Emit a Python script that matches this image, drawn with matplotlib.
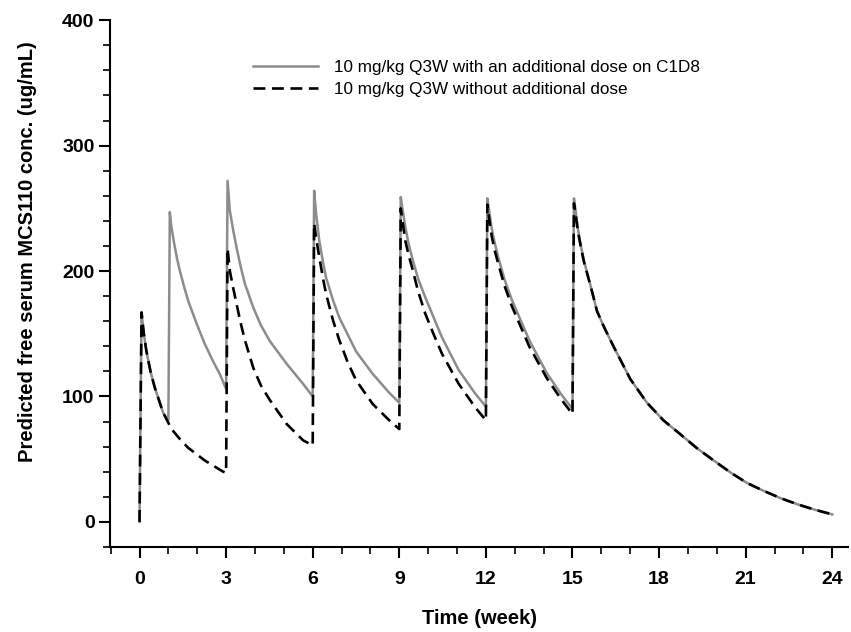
import matplotlib
matplotlib.use("Agg")
import matplotlib.pyplot as plt
from matplotlib.ticker import MultipleLocator

plt.rcParams['font.family'] = ['Liberation Sans', 'DejaVu Sans']

# 10 mg/kg Q3W with an additional dose on C1D8 (week 1)
t_add = [0, 0.07, 0.15, 0.24, 0.38, 0.53, 0.82, 1.0,
         1.05, 1.1, 1.2, 1.3, 1.4, 1.55, 1.69, 1.98, 2.26, 2.55, 2.8, 3.0,
         3.05, 3.13, 3.25, 3.36, 3.5, 3.65, 3.94, 4.2, 4.52, 5.1, 5.67, 6.0,
         6.05, 6.12, 6.23, 6.35, 6.46, 6.7, 6.92, 7.5, 8.08, 8.65, 9.0,
         9.05, 9.12, 9.21, 9.32, 9.44, 9.65, 9.9, 10.48, 11.06, 11.64, 12.0,
         12.05, 12.12, 12.2, 12.32, 12.45, 12.65, 12.9, 13.5, 14.1, 14.6, 15.0,
         15.05, 15.12, 15.2, 15.3, 15.4, 15.64, 15.85, 16.1, 16.42, 17.0,
         17.58, 18.15, 18.73, 19.3, 19.89, 20.5, 21.05, 21.6, 22.2, 22.8,
         23.35, 24.0]
c_add = [0, 167, 150, 136, 120, 107, 87, 81,
         247, 236, 222, 210, 200, 187, 176, 158, 142, 128, 117, 106,
         272, 248, 232, 219, 204, 190, 171, 157, 144, 126, 110, 100,
         264, 245, 224, 208, 195, 177, 163, 136, 118, 103, 95,
         259, 248, 235, 222, 211, 194, 179, 147, 121, 102, 92,
         258, 247, 234, 221, 209, 193, 177, 145, 119, 102, 90,
         258, 246, 232, 219, 208, 187, 168, 155, 140, 114,
         95, 81, 70, 59, 49, 39, 31, 25, 19, 14,
         10, 6]

# 10 mg/kg Q3W without additional dose
t_std = [0, 0.07, 0.15, 0.24, 0.38, 0.53, 0.82, 1.11, 1.4, 1.69, 2.26, 2.9, 3.0,
         3.05, 3.13, 3.25, 3.36, 3.5, 3.65, 3.94, 4.2, 4.52, 5.1, 5.67, 6.0,
         6.05, 6.12, 6.23, 6.35, 6.46, 6.7, 6.92, 7.2, 7.5, 8.08, 8.65, 9.0,
         9.05, 9.12, 9.21, 9.32, 9.44, 9.65, 9.9, 10.2, 10.48, 11.06, 11.64, 12.0,
         12.05, 12.12, 12.2, 12.32, 12.45, 12.65, 12.9, 13.5, 14.1, 14.6, 15.0,
         15.05, 15.12, 15.2, 15.3, 15.4, 15.64, 15.85, 16.1, 16.42, 17.0,
         17.58, 18.15, 18.73, 19.3, 19.89, 20.5, 21.05, 21.6, 22.2, 22.8,
         23.35, 24.0]
c_std = [0, 167, 150, 136, 120, 107, 87, 74, 66, 59, 49, 40, 39,
         218, 200, 186, 174, 159, 145, 123, 109, 97, 78, 65, 61,
         238, 226, 211, 195, 182, 161, 145, 128, 113, 94, 81, 74,
         250, 238, 224, 213, 203, 184, 166, 149, 134, 110, 91, 81,
         253, 241, 228, 215, 204, 188, 172, 140, 115, 98, 86,
         254, 243, 230, 218, 207, 187, 168, 155, 140, 114,
         95, 81, 70, 59, 49, 39, 31, 25, 19, 14,
         10, 6]

labels = ['10 mg/kg Q3W with an additional dose on C1D8',
          '10 mg/kg Q3W without additional dose']

fig = plt.figure(figsize=(8.51, 6.32), dpi=100)
ax = fig.add_axes([0.129, 0.1345, 0.868, 0.8335])

ax.plot(t_add, c_add, color='#8c8c8c', lw=1.8, label=labels[0])
ax.plot(t_std, c_std, color='black', lw=1.9, dashes=(4.5, 2.5), label=labels[1])

ax.set_xlim(-1.03, 24.56)
ax.set_ylim(-20, 400)
ax.xaxis.set_major_locator(MultipleLocator(3))
ax.xaxis.set_minor_locator(MultipleLocator(1))
ax.yaxis.set_major_locator(MultipleLocator(100))
ax.yaxis.set_minor_locator(MultipleLocator(20))

for s in ['top', 'right']:
    ax.spines[s].set_visible(False)
for s in ['left', 'bottom']:
    ax.spines[s].set_linewidth(1.5)

ax.tick_params(which='major', direction='out', length=8, width=1.5, labelsize=14)
ax.tick_params(axis='x', which='major', pad=9)
ax.tick_params(axis='y', which='major', pad=3)
ax.tick_params(which='minor', direction='out', length=5, width=1.2)
for lab in ax.get_xticklabels() + ax.get_yticklabels():
    lab.set_fontweight('bold')

ax.set_xlabel('Time (week)', fontsize=14.5, fontweight='bold')
ax.xaxis.set_label_coords(0.5, -0.117)
ax.set_ylabel('Predicted free serum MCS110 conc. (ug/mL)', fontsize=14.5,
              fontweight='bold')
ax.yaxis.set_label_coords(-0.098, 0.56)

ax.legend(loc='upper left', bbox_to_anchor=(0.183, 0.941), frameon=False,
          fontsize=12.3, handlelength=3.8, handletextpad=0.9,
          labelspacing=0.4, borderpad=0)

fig.savefig('out.png', dpi=100)
